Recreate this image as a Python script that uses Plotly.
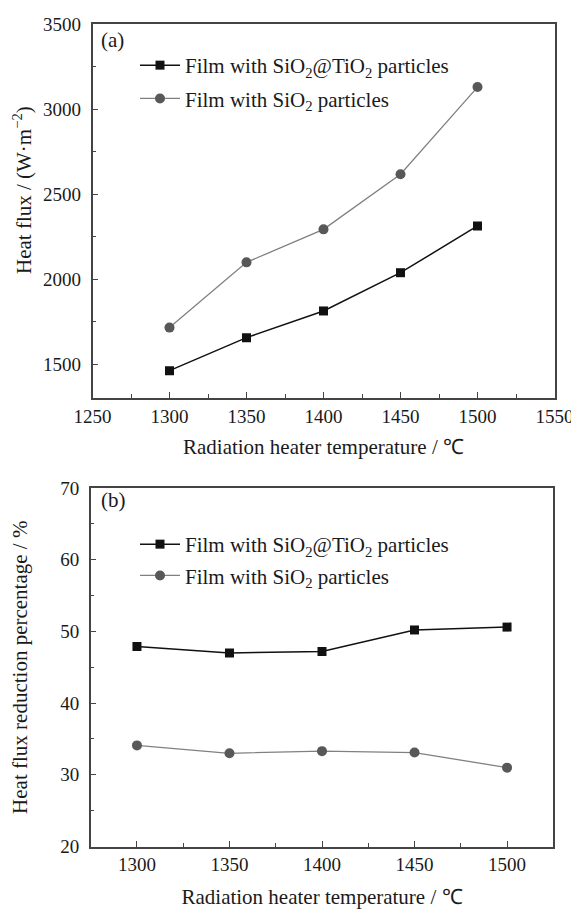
import plotly.graph_objects as go

temps = [1300, 1350, 1400, 1450, 1500]
flux_tio2 = [1461, 1655, 1812, 2037, 2312]
flux_sio2 = [1714, 2098, 2292, 2616, 3129]
red_tio2 = [47.9, 47.0, 47.2, 50.2, 50.6]
red_sio2 = [34.1, 33.0, 33.3, 33.1, 31.0]

name_tio2 = "Film with SiO<sub>2</sub>@TiO<sub>2</sub> particles"
name_sio2 = "Film with SiO<sub>2</sub> particles"
x_title = "Radiation heater temperature / \u2103"
y_title_a = "Heat flux / (W\u00b7m<sup>\u22122</sup>)"
y_title_b = "Heat flux reduction percentage / %"

FONT = "Liberation Serif, Times New Roman, serif"
TXT = "#1a1a1a"
AX = "#444444"
BLK = "#111111"
GRY_M = "#585858"
GRY_L = "#808080"

fig = go.Figure()

fig.add_trace(go.Scatter(x=temps, y=flux_tio2, name=name_tio2, mode="lines+markers",
                         line=dict(color=BLK, width=1.5), marker=dict(symbol="square", size=9, color=BLK),
                         xaxis="x", yaxis="y", legend="legend", legendgroup="a1"))
fig.add_trace(go.Scatter(x=temps, y=flux_sio2, name=name_sio2, mode="lines+markers",
                         line=dict(color=GRY_L, width=1.3), marker=dict(symbol="circle", size=10, color=GRY_M),
                         xaxis="x", yaxis="y", legend="legend", legendgroup="a2"))
fig.add_trace(go.Scatter(x=temps, y=red_tio2, name=name_tio2, mode="lines+markers",
                         line=dict(color=BLK, width=1.5), marker=dict(symbol="square", size=9, color=BLK),
                         xaxis="x2", yaxis="y2", legend="legend2", legendgroup="b1"))
fig.add_trace(go.Scatter(x=temps, y=red_sio2, name=name_sio2, mode="lines+markers",
                         line=dict(color=GRY_L, width=1.3), marker=dict(symbol="circle", size=10, color=GRY_M),
                         xaxis="x2", yaxis="y2", legend="legend2", legendgroup="b2"))

# page body has an 8px margin, so the figure starts at (8, 8) of the window
OFF = 8
W, H = 579 - OFF, 909 - OFF
def px(x):
    return (x - OFF) / W
def py(y):
    return 1 - (y - OFF) / H

TICKF = dict(family=FONT, size=19, color=TXT)
TITF = dict(family=FONT, size=21, color=TXT)

axis_common = dict(showline=True, linecolor=AX, linewidth=1.5, mirror=True,
                   ticks="inside", ticklen=6, tickwidth=1.2, tickcolor=AX,
                   showgrid=False, zeroline=False, automargin=False,
                   tickfont=TICKF)

fig.update_layout(
    width=W, height=H,
    margin=dict(l=0, r=0, t=0, b=0, autoexpand=False),
    paper_bgcolor="white", plot_bgcolor="white",
    font=dict(family=FONT, size=20, color=TXT),
    showlegend=True,
    xaxis=dict(domain=[px(92.5), px(554.5)], anchor="y", range=[1250, 1550], dtick=50, tick0=1250,
               minor=dict(ticks="inside", ticklen=4, dtick=25, tickcolor=AX, tickwidth=1.2),
               title=dict(text=x_title, font=TITF, standoff=14),
               **axis_common),
    yaxis=dict(domain=[py(398), py(24)], anchor="x", range=[1300, 3500], dtick=500, tick0=1500,
               minor=dict(ticks="inside", ticklen=4, dtick=250, tickcolor=AX, tickwidth=1.2),
               ticklabelstandoff=6,
               **axis_common),
    xaxis2=dict(domain=[px(90.7), px(553.3)], anchor="y2", range=[1275, 1525], dtick=50, tick0=1300,
                minor=dict(ticks="inside", ticklen=4, dtick=25, tickcolor=AX, tickwidth=1.2),
                title=dict(text=x_title, font=TITF, standoff=17),
                **axis_common),
    yaxis2=dict(domain=[py(846.5), py(488)], anchor="x2", range=[20, 70], dtick=10, tick0=20,
                minor=dict(ticks="inside", ticklen=4, dtick=5, tickcolor=AX, tickwidth=1.2),
                title=dict(text=y_title_b, font=TITF, standoff=29),
                ticklabelstandoff=6,
                **axis_common),
    legend=dict(x=px(135), y=py(45), xanchor="left", yanchor="top", bgcolor="rgba(0,0,0,0)",
                traceorder="grouped", tracegroupgap=3, itemwidth=40,
                font=TITF),
    legend2=dict(x=px(135), y=py(524), xanchor="left", yanchor="top", bgcolor="rgba(0,0,0,0)",
                 traceorder="grouped", tracegroupgap=1, itemwidth=40,
                 font=TITF),
    annotations=[
        dict(text=y_title_a, xref="paper", yref="paper", x=px(22), y=py(190), xanchor="center", yanchor="middle",
             textangle=-90, showarrow=False, font=TITF),
        dict(text="(a)", xref="paper", yref="paper", x=px(99), y=py(40), xanchor="left", yanchor="middle",
             showarrow=False, font=TITF),
        dict(text="(b)", xref="paper", yref="paper", x=px(99), y=py(500), xanchor="left", yanchor="middle",
             showarrow=False, font=TITF),
    ],
)

fig.write_html("out.html")
